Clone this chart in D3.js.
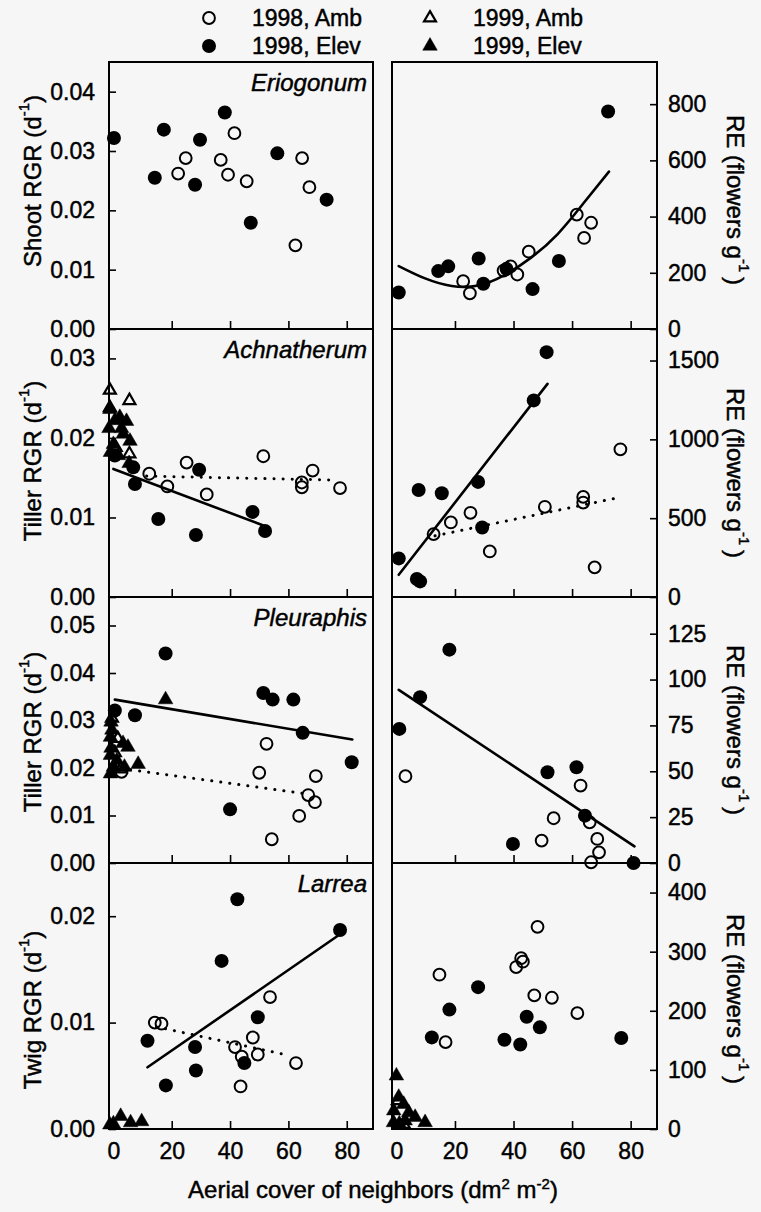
<!DOCTYPE html>
<html>
<head>
<meta charset="utf-8">
<script src="https://cdn.jsdelivr.net/npm/d3@7"></script>
<style>
  body { margin: 0; background: #f6f6f6; }
  svg { font-family: "Liberation Sans", Arial, sans-serif; }
  svg text { fill: #000; stroke: #000; stroke-width: 0.45px; }
</style>
</head>
<body>
<svg id="chart" width="761" height="1212"></svg>
<script>
// x values: aerial cover of neighbors (dm2 m-2), y values
const xTicks = [0, 20, 40, 60, 80];

// Eriogonum
const erioRgrAmb98 = [[22.2,0.0262],[24.8,0.0288],[36.8,0.0285],[39.3,0.026],[41.5,0.033],[45.7,0.0249],[62.4,0.0141],[64.7,0.0288],[67.2,0.0239]];
const erioRgrElev98 = [[0.2,0.0322],[14.2,0.0255],[17.3,0.0336],[28,0.0243],[29.7,0.0319],[38.2,0.0365],[47.1,0.0179],[56.2,0.0296],[73.1,0.0218]];
const erioReAmb98 = [[22.8,170],[25.1,127],[36.6,208],[39,223],[41.3,194],[45.2,275],[61.6,407],[64.1,324],[66.5,378]];
const erioReElev98 = [[0.8,130],[14.3,206],[17.7,223],[28.1,251],[29.7,161],[37.6,214],[46.5,142],[55.5,242],[72.3,774]];
const erioReFit = [[0.8,224],[9.8,180],[18.9,153],[27.9,155],[36.9,192],[46,254],[55,337],[64.1,450],[72.6,560]];

// Achnatherum
const achRgrAmb98 = [[12.3,0.0155],[18.5,0.0139],[25.1,0.0169],[32,0.0129],[51.4,0.0177],[64.6,0.0144],[64.6,0.0138],[68.3,0.0159],[77.7,0.0137]];
const achRgrElev98 = [[0.5,0.0178],[6.8,0.0163],[7.4,0.0142],[15.4,0.0098],[28.3,0.0078],[29.4,0.016],[47.7,0.0107],[52,0.0083]];
const achRgrAmb99 = [[-1.2,0.026],[-1.2,0.0238],[5.5,0.0247],[5.5,0.018],[0.8,0.0188]];
const achRgrElev99 = [[-1.2,0.0236],[0.5,0.0222],[2.2,0.0226],[4.5,0.0221],[-1.5,0.0212],[3.4,0.0205],[5.7,0.0196],[0,0.0192],[1.7,0.0178],[-1,0.0182],[5.4,0.0168],[2.8,0.0212]];
const achRgrElevFit = [[0,0.0161],[51.4,0.009]];
const achRgrAmbFit = [[11.4,0.0152],[76,0.0147]];
const achReAmb98 = [[12.7,399],[18.6,473],[25.3,534],[31.9,289],[50.7,572],[63.8,635],[63.8,599],[67.7,188],[76.5,937]];
const achReElev98 = [[0.8,245],[7,114],[8.1,99],[7.6,679],[15.5,658],[27.9,730],[29.3,441],[46.9,1247],[51.3,1553]];
const achReElevFit = [[0.8,141],[51.6,1352]];
const achReAmbFit = [[13.2,388],[75,627]];

// Pleuraphis
const pleuRgrAmb98 = [[2.8,0.0192],[50,0.019],[52.5,0.0251],[54.3,0.005],[63.7,0.0099],[66.8,0.0143],[69.1,0.0128],[69.4,0.0183]];
const pleuRgrElev98 = [[0.5,0.0321],[7.4,0.0311],[17.9,0.0441],[40,0.0113],[51.4,0.0358],[54.6,0.0344],[61.7,0.0344],[64.9,0.0274],[81.7,0.0212]];
const pleuRgrAmb99 = [[-0.5,0.0305],[1.5,0.0262],[0.5,0.0232],[2.5,0.0198]];
const pleuRgrElev99 = [[17.9,0.0344],[8.5,0.0208],[-0.8,0.0297],[-0.5,0.028],[-1,0.0265],[3.3,0.0252],[5,0.0244],[-0.8,0.0242],[-1,0.0227],[1.2,0.0216],[0,0.0202],[3.8,0.0202],[-1,0.0188]];
const pleuRgrElevFit = [[0.5,0.0344],[81.9,0.026]];
const pleuRgrAmbFit = [[2.8,0.0199],[65.7,0.0146]];
const pleuReAmb98 = [[3.1,47.3],[49.6,12.2],[53.7,24.4],[62.9,42.2],[66,22.2],[66.5,0.4],[68.6,13.1],[69.2,5.8]];
const pleuReElev98 = [[1,73.1],[8.1,90.4],[18.1,116.3],[39.8,10.4],[51.6,49.5],[61.5,52.2],[64.4,25.8],[81,0]];
const pleuReElevFit = [[0.8,94.4],[81.3,9.1]];

// Larrea
const larRgrAmb98 = [[14.2,0.01],[16.5,0.0099],[41.7,0.0077],[43.6,0.004],[44,0.0068],[47.8,0.0086],[49.5,0.007],[53.7,0.0124],[62.6,0.0062]];
const larRgrElev98 = [[11.7,0.0083],[18,0.0041],[28,0.0077],[28.3,0.0055],[37.1,0.0158],[42.5,0.0216],[44.9,0.0062],[49.5,0.0105],[77.7,0.0187]];
const larRgrElev99 = [[-1.2,0.0004],[0,0.0005],[2.5,0.0012],[5.9,0.0006],[9.7,0.0007]];
const larRgrElevFit = [[11.7,0.0058],[77.7,0.0183]];
const larRgrAmbFit = [[14.8,0.0096],[60.5,0.0069]];
const larReAmb98 = [[14.7,261],[16.8,147],[40.9,274],[42.6,289],[43.2,283],[47.1,226],[48.2,342],[53.1,222],[61.8,196]];
const larReElev98 = [[12.1,155],[18.1,202],[27.9,240],[36.9,151],[42.3,143],[44.5,190],[49,172],[76.8,154]];
const larReAmb99 = [[0.5,48],[2.5,8]];
const larReElev99 = [[0,90],[0.8,54],[2.5,42],[-0.9,31],[4.2,28],[6.4,20],[9.8,11],[-1,11],[1,9],[3,14]];

const legendItems = [
    {kind: 'amb98', label: '1998, Amb'},
    {kind: 'elev98', label: '1998, Elev'},
    {kind: 'amb99', label: '1999, Amb'},
    {kind: 'elev99', label: '1999, Elev'}
];

const panels = [
    {row: 0, side: 'left', yMax: 0.045, yTicks: [0, 0.01, 0.02, 0.03, 0.04], label: 'Eriogonum', title: 'Shoot RGR',
        series: [['amb98', erioRgrAmb98], ['elev98', erioRgrElev98]], fits: []},
    {row: 0, side: 'right', yMax: 950, yTicks: [0, 200, 400, 600, 800],
        series: [['amb98', erioReAmb98], ['elev98', erioReElev98]], fits: [['solid', erioReFit]]},
    {row: 1, side: 'left', yMax: 0.0337, yTicks: [0, 0.01, 0.02, 0.03], label: 'Achnatherum', title: 'Tiller RGR',
        series: [['amb99', achRgrAmb99], ['elev99', achRgrElev99], ['amb98', achRgrAmb98], ['elev98', achRgrElev98]],
        fits: [['solid', achRgrElevFit], ['dot', achRgrAmbFit]]},
    {row: 1, side: 'right', yMax: 1700, yTicks: [0, 500, 1000, 1500],
        series: [['amb98', achReAmb98], ['elev98', achReElev98]], fits: [['solid', achReElevFit], ['dot', achReAmbFit]]},
    {row: 2, side: 'left', yMax: 0.056, yTicks: [0, 0.01, 0.02, 0.03, 0.04, 0.05], label: 'Pleuraphis', title: 'Tiller RGR',
        series: [['amb99', pleuRgrAmb99], ['elev99', pleuRgrElev99], ['amb98', pleuRgrAmb98], ['elev98', pleuRgrElev98]],
        fits: [['solid', pleuRgrElevFit], ['dot', pleuRgrAmbFit]]},
    {row: 2, side: 'right', yMax: 145, yTicks: [0, 25, 50, 75, 100, 125],
        series: [['amb98', pleuReAmb98], ['elev98', pleuReElev98]], fits: [['solid', pleuReElevFit]]},
    {row: 3, side: 'left', yMax: 0.025, yTicks: [0, 0.01, 0.02], label: 'Larrea', title: 'Twig RGR',
        series: [['elev99', larRgrElev99], ['amb98', larRgrAmb98], ['elev98', larRgrElev98]],
        fits: [['solid', larRgrElevFit], ['dot', larRgrAmbFit]]},
    {row: 3, side: 'right', yMax: 450, yTicks: [0, 100, 200, 300, 400],
        series: [['amb99', larReAmb99], ['elev99', larReElev99], ['amb98', larReAmb98], ['elev98', larReElev98]], fits: []}
];

// layout
const rows = [[62, 329], [329, 597], [597, 863], [863, 1129]];
const cols = {left: [109, 373], right: [392, 657]};
const leftTitleY = [181, 461, 732, 1010];
const rightTitleY = [200, 473, 730, 999];

const svg = d3.select('#chart');

function marker(g, kind, cx, cy) {
    if (kind === 'amb98' || kind === 'elev98') {
        g.append('circle')
            .attr('cx', cx).attr('cy', cy)
            .attr('r', kind === 'elev98' ? 7 : 5.9)
            .attr('fill', kind === 'elev98' ? '#000' : 'none')
            .attr('stroke', '#000')
            .attr('stroke-width', kind === 'elev98' ? 0 : 2);
    } else {
        g.append('path')
            .attr('d', d3.symbol(d3.symbolTriangle, kind === 'elev99' ? 92 : 62)())
            .attr('transform', `translate(${cx},${cy})`)
            .attr('fill', kind === 'elev99' ? '#000' : 'none')
            .attr('stroke', '#000')
            .attr('stroke-width', kind === 'elev99' ? 0.5 : 2.2);
    }
}

function supText(sel, pre, sup, post) {
    sel.append('tspan').text(pre);
    sel.append('tspan').attr('dy', -9).attr('font-size', 15).text(sup);
    sel.append('tspan').attr('dy', 9).text(post);
}

function drawPanel(p) {
    let [y0, y1] = rows[p.row];
    let [x0, x1] = cols[p.side];

    let x = d3.scaleLinear().domain([-1.5, 89]).range([x0, x1]);
    let y = d3.scaleLinear().domain([0, p.yMax]).range([y1, y0]);

    let g = svg.append('g');

    // inward ticks along the bottom
    g.append('g')
        .attr('transform', `translate(0,${y1})`)
        .call(d3.axisBottom(x).tickValues(xTicks.slice(1)).tickSize(-8).tickFormat(''))
        .call(a => a.select('.domain').remove())
        .selectAll('line').attr('stroke-width', 1.6);

    let yAxis = p.side === 'left' ? d3.axisLeft(y) : d3.axisRight(y);
    yAxis.tickValues(p.yTicks).tickSize(-7).tickPadding(p.side === 'left' ? 14 : 11)
        .tickFormat(p.side === 'left' ? d3.format('.2f') : d3.format('d'));
    g.append('g')
        .attr('transform', `translate(${p.side === 'left' ? x0 : x1},0)`)
        .call(yAxis)
        .call(a => a.select('.domain').remove())
        .call(a => a.selectAll('line').attr('stroke-width', 1.6))
        .call(a => a.selectAll('text').attr('font-size', 23)
            .attr('font-family', '"Liberation Sans", Arial, sans-serif'));

    g.append('rect')
        .attr('x', x0).attr('y', y0)
        .attr('width', x1 - x0).attr('height', y1 - y0)
        .attr('fill', 'none').attr('stroke', '#000').attr('stroke-width', 2);

    p.fits.forEach(([style, pts]) => {
        let line = d3.line().x(d => x(d[0])).y(d => y(d[1]));
        if (pts.length > 2) line.curve(d3.curveNatural);
        g.append('path')
            .attr('d', line(pts))
            .attr('fill', 'none')
            .attr('stroke', '#000')
            .attr('stroke-width', style === 'dot' ? 3 : 2.6)
            .attr('stroke-linecap', 'round')
            .attr('stroke-dasharray', style === 'dot' ? '0.1,9' : null);
    });

    p.series.forEach(([kind, pts]) => {
        pts.forEach(d => marker(g, kind, x(d[0]), y(d[1])));
    });

    if (p.label) {
        g.append('text')
            .attr('x', x1 - 6).attr('y', y0 + 29)
            .attr('text-anchor', 'end')
            .attr('font-size', 24)
            .attr('font-style', 'italic')
            .text(p.label);
    }

    if (p.side === 'left') {
        let t = g.append('text')
            .attr('transform', `translate(32,${leftTitleY[p.row]}) rotate(-90)`)
            .attr('text-anchor', 'middle')
            .attr('dominant-baseline', 'central')
            .attr('font-size', 24);
        supText(t, p.title + ' (d', '-1', ')');
    } else {
        let t = g.append('text')
            .attr('transform', `translate(736,${rightTitleY[p.row]}) rotate(90)`)
            .attr('text-anchor', 'middle')
            .attr('dominant-baseline', 'central')
            .attr('font-size', 24);
        supText(t, 'RE (flowers g', '-1', '\u2009)');
    }

    if (p.row === 3) {
        g.append('g')
            .attr('transform', `translate(0,${y1})`)
            .call(d3.axisBottom(x).tickValues(xTicks).tickSize(0).tickPadding(14))
            .call(a => a.select('.domain').remove())
            .call(a => a.selectAll('text').attr('font-size', 23)
                .attr('font-family', '"Liberation Sans", Arial, sans-serif'));
    }
}

panels.forEach(drawPanel);

// x axis title
let xt = svg.append('text')
    .attr('x', 373).attr('y', 1198)
    .attr('text-anchor', 'middle')
    .attr('font-size', 24);
xt.append('tspan').text('Aerial cover of neighbors (dm');
xt.append('tspan').attr('dy', -9).attr('font-size', 15).text('2');
xt.append('tspan').attr('dy', 9).text(' m');
xt.append('tspan').attr('dy', -9).attr('font-size', 15).text('-2');
xt.append('tspan').attr('dy', 9).text(')');

// legend
let legend = svg.append('g');
legendItems.forEach((d, i) => {
    let lx = i < 2 ? 209 : 430;
    let ly = i % 2 === 0 ? 18 : 46;
    marker(legend, d.kind, lx, ly);
    legend.append('text')
        .attr('x', lx + 43).attr('y', ly)
        .attr('dominant-baseline', 'central')
        .attr('font-size', 23)
        .text(d.label);
});
</script>
</body>
</html>
